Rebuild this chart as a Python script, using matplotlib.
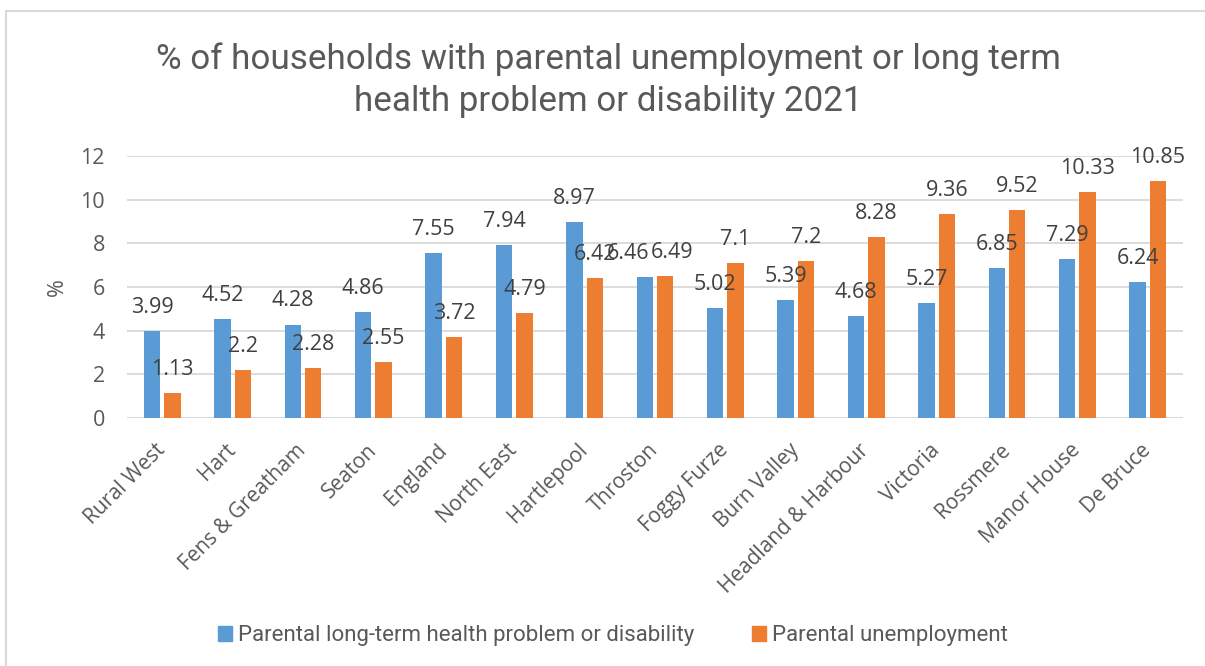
import matplotlib
matplotlib.use("Agg")
import matplotlib.pyplot as plt
from matplotlib import font_manager
from matplotlib.patches import Rectangle
import numpy as np

categories = ["Rural West", "Hart", "Fens & Greatham", "Seaton", "England",
              "North East", "Hartlepool", "Throston", "Foggy Furze", "Burn Valley",
              "Headland & Harbour", "Victoria", "Rossmere", "Manor House", "De Bruce"]
health = [3.99, 4.52, 4.28, 4.86, 7.55, 7.94, 8.97, 6.46, 5.02, 5.39, 4.68, 5.27, 6.85, 7.29, 6.24]
unemployment = [1.13, 2.2, 2.28, 2.55, 3.72, 4.79, 6.42, 6.49, 7.1, 7.2, 8.28, 9.36, 9.52, 10.33, 10.85]
series_names = ["Parental long-term health problem or disability", "Parental unemployment"]
title = "% of households with parental unemployment or long term\nhealth problem or disability 2021"
y_ticks = [0, 2, 4, 6, 8, 10, 12]

BLUE = "#5b9bd5"
ORANGE = "#ed7d31"
TEXT = "#595959"
LABEL = "#404040"
GRID = "#d9d9d9"

available = {f.name for f in font_manager.fontManager.ttflist}
narrow = "Liberation Sans Narrow" if "Liberation Sans Narrow" in available else "Roboto"
body = "Open Sans"

W, H = 1205, 666
fig = plt.figure(figsize=(W / 100, H / 100), dpi=100)

# chart-area border (left and top edges visible)
fig.add_artist(Rectangle((6 / W, -0.01), 1.1, 1 - 11 / H + 0.01, transform=fig.transFigure,
                         fill=False, edgecolor=GRID, linewidth=1.5))

left, right = 127 / W, 1183 / W
bottom, top = 1 - 418 / H, 1 - 156 / H
ax = fig.add_axes([left, bottom, right - left, top - bottom])

x = np.arange(len(categories))
bw = 0.232
off = 0.145
b1 = ax.bar(x - off, health, bw, color=BLUE, zorder=3)
b2 = ax.bar(x + off, unemployment, bw, color=ORANGE, zorder=3)

# the two Throston labels are nudged apart so they do not sit on top of each other
nudge = {(0, 7): -12, (1, 7): 5}
for si, (bars, vals) in enumerate(((b1, health), (b2, unemployment))):
    for ci, (rect, v) in enumerate(zip(bars, vals)):
        dx = nudge.get((si, ci), 0)
        ax.annotate(f"{v:g}", (rect.get_x() + rect.get_width() / 2, v),
                    xytext=(dx, 17), textcoords="offset points",
                    ha="center", va="center", fontsize=15.5, color=LABEL,
                    family=body, zorder=4)

ax.set_xlim(-0.5, len(categories) - 0.5)
ax.set_ylim(0, 12)
ax.set_yticks(y_ticks)
ax.set_yticklabels([str(t) for t in y_ticks], family=body, fontsize=15.5, color=TEXT)
ax.set_xticks(x)
ax.set_xticklabels(categories, rotation=45, ha="right", va="center",
                   rotation_mode="anchor", family=body, fontsize=15, color=TEXT)
ax.tick_params(axis="both", length=0)
ax.tick_params(axis="y", pad=16)
ax.tick_params(axis="x", pad=21)
ax.grid(axis="y", color=GRID, linewidth=1.3, zorder=0)
for s in ax.spines.values():
    s.set_visible(False)
ax.axhline(0, color=GRID, linewidth=1.5, zorder=2)

fig.text(57 / W, 1 - 287 / H, "%", rotation=90, ha="center", va="center",
         family=body, fontsize=15.5, color=TEXT)

fig.text(608 / W, 1 - 80 / H, title, ha="center", va="center", family=narrow,
         fontsize=25.2, color=TEXT, linespacing=1.35)

handles = [Rectangle((0, 0), 1, 1, color=BLUE), Rectangle((0, 0), 1, 1, color=ORANGE)]
fig.legend(handles, series_names, loc="center", bbox_to_anchor=(613 / W, 1 - 636 / H),
           ncol=2, frameon=False, prop={"family": narrow, "size": 16},
           handlelength=0.63, handleheight=0.63, handletextpad=0.25, columnspacing=2.6,
           labelcolor=TEXT)

fig.savefig("out.png", dpi=100)
